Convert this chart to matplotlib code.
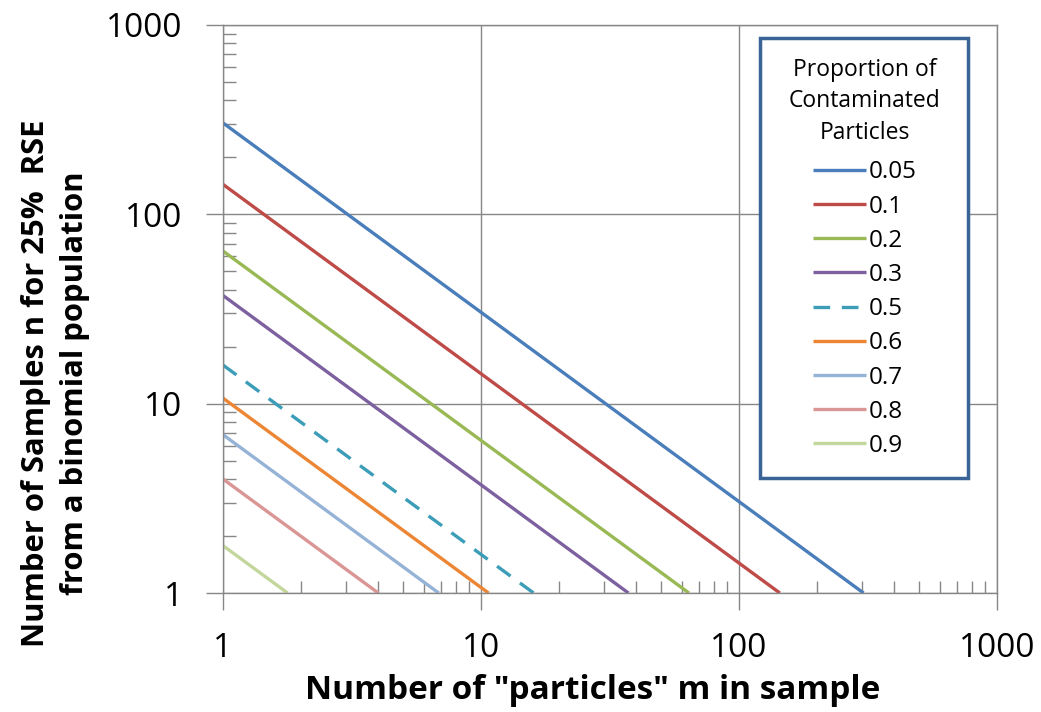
import matplotlib
matplotlib.use("Agg")
from matplotlib import pyplot as plt
from matplotlib.patches import Rectangle
from matplotlib.ticker import LogLocator, NullFormatter, FixedLocator, FixedFormatter

# proportion of contaminated particles
proportions = ["0.05", "0.1", "0.2", "0.3", "0.5", "0.6", "0.7", "0.8", "0.9"]
# n at m = 1
n_at_m1 = [304, 144, 64, 37.3, 16, 10.7, 6.86, 4.0, 1.78]
# m where the line reaches n = 1 (bottom edge)
m_at_n1 = [304, 144, 64, 37.3, 16, 10.7, 6.86, 4.0, 1.78]

colors = ["#4A7EBB", "#BE4B48", "#98B954", "#7D60A0", "#3C9DB8",
          "#EC8634", "#95B3D7", "#D99694", "#C3D69B"]
styles = ["-", "-", "-", "-", "--", "-", "-", "-", "-"]

plt.rcParams["font.family"] = ["Open Sans", "DejaVu Sans"]

fig = plt.figure(figsize=(10.41, 7.12), dpi=100)
ax = fig.add_axes([0.2142, 0.1671, 0.7435, 0.7978])

for lab, y0, x1, c, ls in zip(proportions, n_at_m1, m_at_n1, colors, styles):
    line, = ax.plot([1, x1], [y0, 1], color=c, lw=2.4, ls=ls, label=lab,
                    solid_capstyle="butt")
    if ls == "--":
        line.set_dashes((5, 3.5))

ax.set_xscale("log")
ax.set_yscale("log")
ax.set_xlim(1, 1000)
ax.set_ylim(1, 1000)

major = [1, 10, 100, 1000]
for axis in (ax.xaxis, ax.yaxis):
    axis.set_major_locator(FixedLocator(major))
    axis.set_major_formatter(FixedFormatter([str(v) for v in major]))
    axis.set_minor_locator(LogLocator(base=10, subs=range(2, 10)))
    axis.set_minor_formatter(NullFormatter())

ax.tick_params(which="major", direction="out", length=12, width=1,
               color="#878787", labelsize=24)
ax.tick_params(axis="y", which="major", pad=17)
ax.tick_params(axis="x", which="major", pad=16)
ax.tick_params(which="minor", direction="in", length=9, width=1, color="#878787")

ax.grid(True, which="major", color="#878787", lw=1)
for s in ax.spines.values():
    s.set_color("#878787")
    s.set_linewidth(1)

ax.set_xlabel('Number of "particles" m in sample', fontsize=24, fontweight="bold")
ax.xaxis.set_label_coords(0.477, -0.143)
ax.set_ylabel("Number of Samples n for 25%  RSE\nfrom a binomial population",
              fontsize=22.3, fontweight="bold", linespacing=1.38)
ax.yaxis.set_label_coords(-0.172, 0.37)

# legend box
box = Rectangle((0.694, 0.2025), 0.2685, 0.7745, transform=ax.transAxes,
                facecolor="white", edgecolor="#3A6496", lw=2.5, zorder=5)
ax.add_patch(box)

leg = ax.legend(title="Proportion of\nContaminated\nParticles", loc="upper center",
                bbox_to_anchor=(0.829, 0.942), fontsize=17.5, title_fontsize=16.5,
                handlelength=2.2, handletextpad=0.1, labelspacing=0.42,
                borderpad=0, borderaxespad=0, frameon=False)
leg.set_zorder(6)
leg.get_title().set_multialignment("center")
leg.get_title().set_linespacing(1.42)
leg._legend_box.sep = 11  # a bit more room under the title

fig.savefig("out.png", dpi=100)
